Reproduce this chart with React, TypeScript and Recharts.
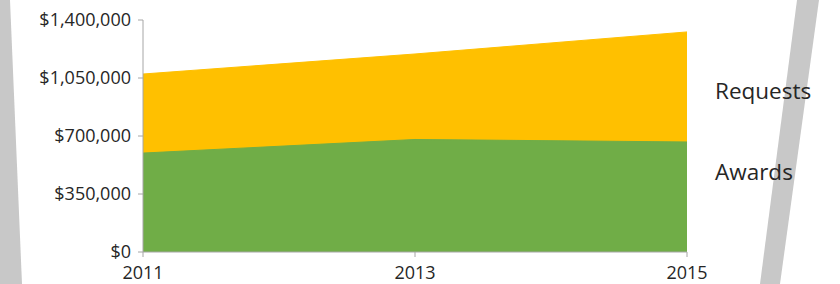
import React from 'react';
import { AreaChart, Area, XAxis, YAxis } from 'recharts';

const years = ['2011', '2013', '2015'];
const requests = [1074000, 1195000, 1328000];
const awards = [597000, 679000, 664000];
const yTicks = [0, 350000, 700000, 1050000, 1400000];
const seriesLabels = ['Requests', 'Awards'];

const data = years.map((y, i) => ({ year: y, requests: requests[i], awards: awards[i] }));

const fmt = (v: number) => '$' + v.toLocaleString('en-US');

const FONT = '"Open Sans", sans-serif';
const TEXT = '#262626';
const AXIS = '#A6A6A6';

export default function App() {
  return (
    <div style={{ position: 'absolute', left: 0, top: 0, width: 840, height: 284, background: '#fff', overflow: 'hidden' }}>
      <svg width={840} height={284} style={{ position: 'absolute', left: 0, top: 0 }}>
        <polygon points="0,0 10,0 22,284 0,284" fill="#C8C8C8" />
        <polygon points="797,0 819,0 780,284 760,284" fill="#C8C8C8" />
      </svg>
      <div style={{ position: 'absolute', left: 0, top: 0 }}>
        <AreaChart width={840} height={284} data={data} margin={{ top: 20, right: 153, bottom: 0, left: 8 }}>
          <XAxis
            dataKey="year"
            tick={{ fill: TEXT, fontSize: 18, fontFamily: FONT }}
            tickLine={{ stroke: AXIS }}
            axisLine={{ stroke: AXIS }}
            tickSize={5}
            tickMargin={9}
            height={32}
            interval={0}
          />
          <YAxis
            domain={[0, 1400000]}
            ticks={yTicks}
            tickFormatter={fmt}
            tick={{ fill: TEXT, fontSize: 18, fontFamily: FONT }}
            tickLine={{ stroke: AXIS }}
            axisLine={{ stroke: AXIS }}
            tickSize={5}
            tickMargin={7}
            width={135}
            interval={0}
          />
          <Area type="linear" dataKey="requests" stroke="#FFC000" strokeWidth={1} fill="#FFC000" fillOpacity={1} isAnimationActive={false} />
          <Area type="linear" dataKey="awards" stroke="#70AD47" strokeWidth={1} fill="#70AD47" fillOpacity={1} isAnimationActive={false} />
        </AreaChart>
      </div>
      <svg width={840} height={284} style={{ position: 'absolute', left: 0, top: 0, pointerEvents: 'none' }}>
        <text x={715} y={99} fontSize={22.5} fontFamily={FONT} fill={TEXT}>{seriesLabels[0]}</text>
        <text x={715} y={180} fontSize={22.5} fontFamily={FONT} fill={TEXT}>{seriesLabels[1]}</text>
      </svg>
    </div>
  );
}
